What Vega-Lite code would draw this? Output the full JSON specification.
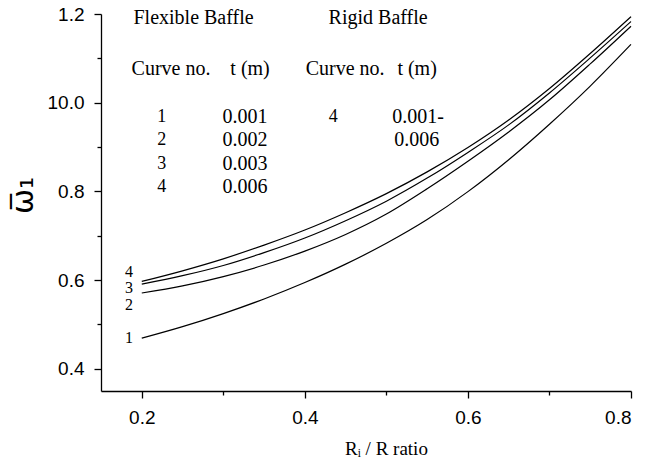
{
  "$schema": "https://vega.github.io/schema/vega-lite/v6.json",
  "width": 530,
  "height": 377,
  "autosize": {"type": "none"},
  "padding": {"left": 101, "top": 14, "right": 14, "bottom": 69},
  "background": "white",
  "config": {
    "view": {"stroke": null},
    "axis": {"labelFont": "Liberation Sans", "labelFontSize": 19, "labelColor": "black", "domainColor": "black", "tickColor": "black", "grid": false, "titleColor": "black"}
  },
  "datasets": {
    "curves": [
      {"curve": "1", "x": 0.2, "y": 0.469}, {"curve": "1", "x": 0.25, "y": 0.495}, {"curve": "1", "x": 0.3, "y": 0.5245}, {"curve": "1", "x": 0.35, "y": 0.5575}, {"curve": "1", "x": 0.4, "y": 0.5945}, {"curve": "1", "x": 0.45, "y": 0.636}, {"curve": "1", "x": 0.5, "y": 0.683}, {"curve": "1", "x": 0.55, "y": 0.7365}, {"curve": "1", "x": 0.6, "y": 0.7995}, {"curve": "1", "x": 0.65, "y": 0.8715}, {"curve": "1", "x": 0.7, "y": 0.9515}, {"curve": "1", "x": 0.75, "y": 1.0375}, {"curve": "1", "x": 0.8, "y": 1.1315},
      {"curve": "2", "x": 0.2, "y": 0.571}, {"curve": "2", "x": 0.25, "y": 0.587}, {"curve": "2", "x": 0.3, "y": 0.608}, {"curve": "2", "x": 0.35, "y": 0.634}, {"curve": "2", "x": 0.4, "y": 0.6655}, {"curve": "2", "x": 0.45, "y": 0.703}, {"curve": "2", "x": 0.5, "y": 0.749}, {"curve": "2", "x": 0.55, "y": 0.806}, {"curve": "2", "x": 0.6, "y": 0.868}, {"curve": "2", "x": 0.65, "y": 0.934}, {"curve": "2", "x": 0.7, "y": 1.0065}, {"curve": "2", "x": 0.75, "y": 1.0875}, {"curve": "2", "x": 0.8, "y": 1.1725},
      {"curve": "3", "x": 0.2, "y": 0.591}, {"curve": "3", "x": 0.25, "y": 0.61}, {"curve": "3", "x": 0.3, "y": 0.633}, {"curve": "3", "x": 0.35, "y": 0.662}, {"curve": "3", "x": 0.4, "y": 0.695}, {"curve": "3", "x": 0.45, "y": 0.734}, {"curve": "3", "x": 0.5, "y": 0.778}, {"curve": "3", "x": 0.55, "y": 0.83}, {"curve": "3", "x": 0.6, "y": 0.888}, {"curve": "3", "x": 0.65, "y": 0.95}, {"curve": "3", "x": 0.7, "y": 1.022}, {"curve": "3", "x": 0.75, "y": 1.101}, {"curve": "3", "x": 0.8, "y": 1.183},
      {"curve": "4", "x": 0.2, "y": 0.597}, {"curve": "4", "x": 0.25, "y": 0.621}, {"curve": "4", "x": 0.3, "y": 0.648}, {"curve": "4", "x": 0.35, "y": 0.679}, {"curve": "4", "x": 0.4, "y": 0.713}, {"curve": "4", "x": 0.45, "y": 0.752}, {"curve": "4", "x": 0.5, "y": 0.795}, {"curve": "4", "x": 0.55, "y": 0.844}, {"curve": "4", "x": 0.6, "y": 0.899}, {"curve": "4", "x": 0.65, "y": 0.961}, {"curve": "4", "x": 0.7, "y": 1.032}, {"curve": "4", "x": 0.75, "y": 1.111}, {"curve": "4", "x": 0.8, "y": 1.194}
    ],
    "notes": [
      {"label": "Flexible Baffle", "x": 0.2635, "y": 1.191, "kind": "big"},
      {"label": "Rigid Baffle", "x": 0.4899, "y": 1.191, "kind": "big"},
      {"label": "Curve no.", "x": 0.2359, "y": 1.0764, "kind": "big"},
      {"label": "t (m)", "x": 0.3328, "y": 1.0764, "kind": "big"},
      {"label": "Curve no.", "x": 0.4494, "y": 1.0764, "kind": "big"},
      {"label": "t (m)", "x": 0.5377, "y": 1.0764, "kind": "big"},
      {"label": "0.001", "x": 0.3267, "y": 0.9674, "kind": "big"},
      {"label": "0.002", "x": 0.3267, "y": 0.9157, "kind": "big"},
      {"label": "0.003", "x": 0.3267, "y": 0.8629, "kind": "big"},
      {"label": "0.006", "x": 0.3267, "y": 0.8101, "kind": "big"},
      {"label": "0.001-", "x": 0.539, "y": 0.9674, "kind": "big"},
      {"label": "0.006", "x": 0.5371, "y": 0.9157, "kind": "big"},
      {"label": "1", "x": 0.2245, "y": 0.9674, "kind": "small"},
      {"label": "2", "x": 0.2245, "y": 0.9157, "kind": "small"},
      {"label": "3", "x": 0.2245, "y": 0.8629, "kind": "small"},
      {"label": "4", "x": 0.2245, "y": 0.8101, "kind": "small"},
      {"label": "4", "x": 0.4347, "y": 0.9674, "kind": "small"},
      {"label": "4", "x": 0.1844, "y": 0.618, "kind": "tiny"},
      {"label": "3", "x": 0.1844, "y": 0.5815, "kind": "tiny"},
      {"label": "2", "x": 0.1844, "y": 0.5445, "kind": "tiny"},
      {"label": "1", "x": 0.1844, "y": 0.469, "kind": "tiny"}
    ]
  },
  "resolve": {"axis": {"x": "independent", "y": "independent"}},
  "layer": [
    {
      "data": {"name": "curves"},
      "mark": {"type": "line", "interpolate": "monotone", "color": "black", "strokeWidth": 1.2},
      "encoding": {
        "x": {"field": "x", "type": "quantitative", "scale": {"domain": [0.15, 0.8], "nice": false, "zero": false},
          "axis": {"orient": "bottom", "values": [0.2, 0.4, 0.6, 0.8], "format": ".1f", "tickSize": 7, "labelPadding": 10, "domainWidth": 1.3, "tickWidth": 1.3,
            "title": "Rᵢ / R ratio", "titleFont": "Liberation Serif", "titleFontSize": 19, "titleFontWeight": "normal", "titleX": 285, "titleY": 57, "titleBaseline": "middle", "titleAlign": "center"}},
        "y": {"field": "y", "type": "quantitative", "scale": {"domain": [0.35, 1.2], "nice": false, "zero": false},
          "axis": {"orient": "left", "values": [0.4, 0.6, 0.8, 1.0, 1.2], "labelExpr": "datum.value == 1 ? '10.0' : format(datum.value, '.1f')", "tickSize": 7, "labelPadding": 10, "domainWidth": 1.3, "tickWidth": 1.3,
            "title": "ω̅₁", "titleFont": "DejaVu Sans", "titleFontSize": 30, "titleFontWeight": "normal", "titleX": -78, "titleY": 181, "titleBaseline": "middle", "titleAlign": "center", "titleAngle": -90}},
        "detail": {"field": "curve"}
      }
    },
    {
      "data": {"name": "curves"},
      "mark": {"type": "line", "opacity": 0},
      "encoding": {
        "x": {"field": "x", "type": "quantitative", "axis": {"orient": "bottom", "values": [0.3, 0.5, 0.7], "labels": false, "domain": false, "tickSize": 4, "tickWidth": 1.3, "title": null}},
        "y": {"field": "y", "type": "quantitative", "axis": {"orient": "left", "values": [0.5, 0.7, 0.9, 1.1], "labels": false, "domain": false, "tickSize": 4, "tickWidth": 1.3, "title": null}},
        "detail": {"field": "curve"}
      }
    },
    {
      "data": {"name": "notes"},
      "mark": {"type": "text", "font": "Liberation Serif", "color": "black", "align": "center", "baseline": "middle"},
      "encoding": {
        "x": {"field": "x", "type": "quantitative", "axis": null},
        "y": {"field": "y", "type": "quantitative", "axis": null},
        "text": {"field": "label"},
        "size": {"field": "kind", "type": "nominal", "scale": {"domain": ["big", "small", "tiny"], "range": [20, 16, 13.5]}, "legend": null}
      }
    }
  ]
}
